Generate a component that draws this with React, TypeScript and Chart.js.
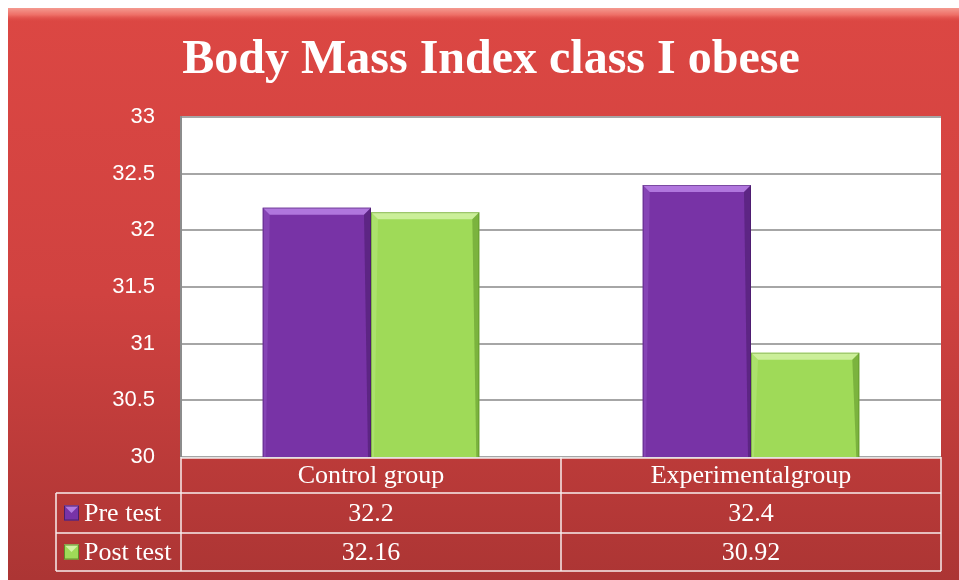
import React, { useEffect, useRef } from "react";
import { Chart, registerables } from "chart.js";

Chart.register(...registerables);

const chartTitle = "Body Mass Index class I obese";
const categories = ["Control group", "Experimentalgroup"];
const seriesNames = ["Pre test", "Post test"];
const preTest = [32.2, 32.4];
const postTest = [32.16, 30.92];
const yMin = 30;
const yMax = 33;
const yStep = 0.5;

const PURPLE = "#7833A6";
const GREEN = "#9FDA58";

function shade(ctx: CanvasRenderingContext2D, pts: number[][], color: string) {
  ctx.beginPath();
  ctx.moveTo(pts[0][0], pts[0][1]);
  for (let i = 1; i < pts.length; i++) ctx.lineTo(pts[i][0], pts[i][1]);
  ctx.closePath();
  ctx.fillStyle = color;
  ctx.fill();
}

const decorPlugin = {
  id: "decor",
  beforeDraw(chart: any) {
    const { ctx, width, height, chartArea } = chart;
    ctx.save();
    const g = ctx.createLinearGradient(0, 0, 0, height);
    g.addColorStop(0, "#DC4743");
    g.addColorStop(0.5, "#D04240");
    g.addColorStop(1, "#AC3534");
    ctx.fillStyle = g;
    ctx.fillRect(0, 0, width, height);
    const hg = ctx.createLinearGradient(0, 0, 0, 14);
    hg.addColorStop(0, "#F49A90");
    hg.addColorStop(0.5, "#EE6E66");
    hg.addColorStop(1, "rgba(220,71,67,0)");
    ctx.fillStyle = hg;
    ctx.fillRect(0, 0, width, 14);
    ctx.fillStyle = "#FFFFFF";
    ctx.fillRect(chartArea.left, chartArea.top, chartArea.right - chartArea.left, chartArea.bottom - chartArea.top);
    ctx.font = "bold 48px 'Liberation Serif', 'Times New Roman', serif";
    ctx.fillStyle = "#FFFFFF";
    ctx.textAlign = "center";
    ctx.textBaseline = "alphabetic";
    ctx.fillText(chartTitle, 483, 65);
    ctx.restore();
  },
  afterDatasetsDraw(chart: any) {
    const { ctx, chartArea } = chart;
    ctx.save();
    ctx.beginPath();
    ctx.rect(chartArea.left, chartArea.top, chartArea.right - chartArea.left, chartArea.bottom - chartArea.top);
    ctx.clip();
    chart.data.datasets.forEach((ds: any, di: number) => {
      const meta = chart.getDatasetMeta(di);
      meta.data.forEach((bar: any) => {
        const { x, y, width } = bar.getProps(["x", "y", "width"], true);
        const l = x - width / 2;
        const r = x + width / 2;
        const t = y;
        const b = chartArea.bottom;
        const d = 7;
        const light = di === 0 ? "rgba(190,135,235,0.8)" : "rgba(210,242,165,0.85)";
        const dark = di === 0 ? "rgba(60,20,90,0.45)" : "rgba(80,130,30,0.45)";
        const sideL = di === 0 ? "rgba(160,100,210,0.35)" : "rgba(190,235,140,0.4)";
        shade(ctx, [[l, t], [r, t], [r - d, t + d], [l + d, t + d]], light);
        shade(ctx, [[r, t], [r, b], [r - 3, b], [r - d, t + d]], dark);
        shade(ctx, [[l, t], [l + d, t + d], [l + 3, b], [l, b]], sideL);
        ctx.strokeStyle = dark;
        ctx.lineWidth = 1;
        ctx.strokeRect(l + 0.5, t + 0.5, width - 1, b - t + 2);
      });
    });
    ctx.restore();
  },
  afterDraw(chart: any) {
    const { ctx, chartArea } = chart;
    const left = chartArea.left;
    const right = chartArea.right;
    const top = chartArea.bottom;
    const r1 = top + 36;
    const r2 = r1 + 40;
    const r3 = r2 + 38;
    const legLeft = 48;
    const colW = (right - left) / categories.length;
    ctx.save();
    ctx.strokeStyle = "rgba(255,255,255,0.9)";
    ctx.lineWidth = 1.5;
    ctx.beginPath();
    ctx.moveTo(left, top + 1);
    ctx.lineTo(right, top + 1);
    [r1, r2, r3].forEach((yy) => {
      ctx.moveTo(legLeft, yy);
      ctx.lineTo(right, yy);
    });
    ctx.moveTo(legLeft, r1);
    ctx.lineTo(legLeft, r3);
    for (let i = 0; i <= categories.length; i++) {
      const xx = left + i * colW;
      ctx.moveTo(xx, top);
      ctx.lineTo(xx, r3);
    }
    ctx.stroke();

    ctx.fillStyle = "#FFFFFF";
    ctx.font = "26px 'Liberation Serif', 'Times New Roman', serif";
    ctx.textBaseline = "middle";
    ctx.textAlign = "center";
    categories.forEach((c, i) => {
      ctx.fillText(c, left + (i + 0.5) * colW, (top + r1) / 2 + 1);
    });
    const rows = [preTest, postTest];
    const rowTops = [r1, r2];
    const rowBots = [r2, r3];
    rows.forEach((vals, ri) => {
      const cy = (rowTops[ri] + rowBots[ri]) / 2 + 1;
      vals.forEach((v, i) => {
        ctx.textAlign = "center";
        ctx.fillStyle = "#FFFFFF";
        ctx.fillText(String(v), left + (i + 0.5) * colW, cy);
      });
      const kx = 56;
      const ks = 15;
      const ky = cy - ks / 2 - 1;
      const col = ri === 0 ? PURPLE : GREEN;
      ctx.fillStyle = col;
      ctx.fillRect(kx, ky, ks, ks);
      shade(ctx, [[kx, ky], [kx + ks, ky], [kx + ks / 2, ky + ks / 2]], ri === 0 ? "#B27AE0" : "#D3F2A4");
      ctx.strokeStyle = ri === 0 ? "#4A1E6A" : "#5E8E2A";
      ctx.lineWidth = 1;
      ctx.strokeRect(kx + 0.5, ky + 0.5, ks - 1, ks - 1);
      ctx.fillStyle = "#FFFFFF";
      ctx.textAlign = "left";
      ctx.fillText(seriesNames[ri], 76, cy);
    });
    ctx.restore();
  },
};

export default function App() {
  const ref = useRef<HTMLCanvasElement | null>(null);
  useEffect(() => {
    if (!ref.current) return;
    const chart = new Chart(ref.current, {
      type: "bar",
      data: {
        labels: categories,
        datasets: [
          { label: seriesNames[0], data: preTest, backgroundColor: PURPLE, borderWidth: 0 },
          { label: seriesNames[1], data: postTest, backgroundColor: GREEN, borderWidth: 0 },
        ],
      },
      options: {
        responsive: false,
        maintainAspectRatio: false,
        animation: false,
        layout: { padding: { left: 0, right: 18, top: 109, bottom: 123 } },
        datasets: { bar: { categoryPercentage: 0.57, barPercentage: 1.0 } },
        plugins: {
          legend: { display: false },
          title: { display: false },
          tooltip: { enabled: false },
        },
        scales: {
          x: {
            display: false,
            grid: { display: false },
          },
          y: {
            min: yMin,
            max: yMax,
            afterFit: (s: any) => {
              s.width = 173;
            },
            border: { display: true, color: "#8C8C8C", width: 2 },
            grid: { color: "#A6A6A6", lineWidth: 2, drawTicks: false },
            ticks: {
              stepSize: yStep,
              padding: 26,
              color: "#FFFFFF",
              font: { family: "'Liberation Sans', Arial, sans-serif", size: 22 },
              callback: (v: any) => String(Number(v)),
            },
          },
        },
      },
      plugins: [decorPlugin],
    });
    return () => chart.destroy();
  }, []);
  return (
    <div style={{ position: "absolute", left: 8, top: 8, width: 951, height: 572 }}>
      <canvas ref={ref} width={951} height={572} style={{ display: "block" }} />
    </div>
  );
}
